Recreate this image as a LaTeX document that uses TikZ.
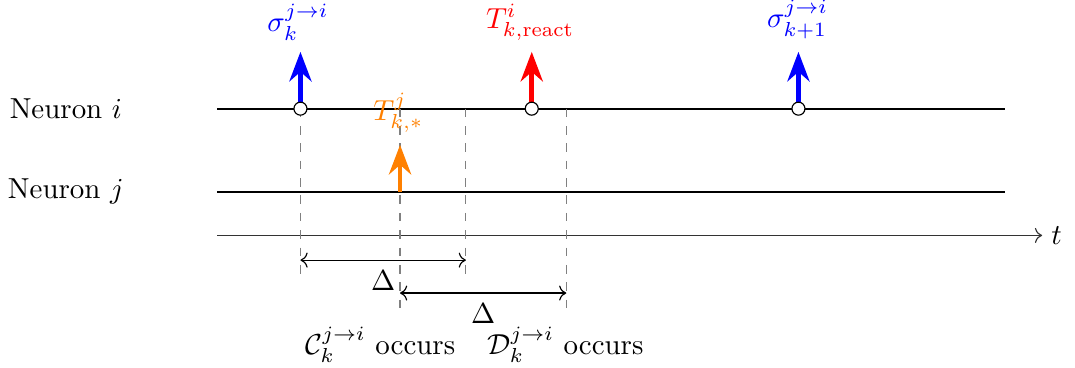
\documentclass[tikz,border=0pt]{standalone}
\usepackage{amsmath,amssymb}
\usepackage{xcolor}
\usetikzlibrary{arrows.meta}
\definecolor{spikeorange}{RGB}{255,128,0}

\begin{document}
\begin{tikzpicture}[>=To,
    train/.style={thick},
    spike/.style={-Stealth, ultra thick},
    guide/.style={dashed, gray, thin},
    dot/.style={circle, draw, fill=white, inner sep=0pt, minimum size=4.5pt}]
\useasboundingbox (0,0) rectangle (13.06,-4.47);
% neuron labels
\node (ni) at (0.80,-1.32) {Neuron $i$};
\node (nj) at (0.80,-2.33) {Neuron $j$};
% spike trains
\coordinate (ia) at (2.64,-1.32);
\coordinate (ib) at (12.21,-1.32);
\coordinate (ja) at (2.64,-2.33);
\coordinate (jb) at (12.21,-2.33);
\draw[train] (ia) -- (ib);
\draw[train] (ja) -- (jb);
% time axis
\coordinate (ta) at (2.64,-2.86);
\node[anchor=west, inner sep=3pt] (t) at (12.66,-2.86) {$t$};
\draw[->, gray!40!black] (ta) -- (t.west);
% guide lines
\coordinate (g1a) at (3.65,-1.32);
\coordinate (g1b) at (3.65,-3.34);
\coordinate (g2a) at (4.86,-1.32);
\coordinate (g2b) at (4.86,-3.77);
\coordinate (g3a) at (5.66,-1.32);
\coordinate (g3b) at (5.66,-3.34);
\coordinate (g4a) at (6.88,-1.32);
\coordinate (g4b) at (6.88,-3.77);
\draw[guide] (g1a) -- (g1b);
\draw[guide] (g2a) -- (g2b);
\draw[guide] (g3a) -- (g3b);
\draw[guide] (g4a) -- (g4b);
% spikes on neuron i
\coordinate (s1) at (3.65,-1.32);
\coordinate (s1t) at (3.65,-0.63);
\coordinate (r1) at (6.46,-1.32);
\coordinate (r1t) at (6.46,-0.63);
\coordinate (s2) at (9.70,-1.32);
\coordinate (s2t) at (9.70,-0.63);
\draw[spike, blue] (s1) -- (s1t);
\draw[spike, red] (r1) -- (r1t);
\draw[spike, blue] (s2) -- (s2t);
\node[dot] (d1) at (s1) {};
\node[dot] (d2) at (r1) {};
\node[dot] (d3) at (s2) {};
\node[blue] (ls1) at (3.62,-0.27) {$\sigma_k^{j\to i}$};
\node[red] (lr1) at (6.44,-0.27) {$T^i_{k,\text{react}}$};
\node[blue] (ls2) at (9.69,-0.24) {$\sigma_{k+1}^{j\to i}$};
% spike on neuron j
\coordinate (o1) at (4.86,-2.33);
\coordinate (o1t) at (4.86,-1.76);
\draw[spike, spikeorange] (o1) -- (o1t);
\node[spikeorange] (lo1) at (4.84,-1.37) {$T^j_{k,*}$};
% windows
\coordinate (w1a) at (3.65,-3.16);
\coordinate (w1b) at (5.66,-3.16);
\coordinate (w2a) at (4.86,-3.56);
\coordinate (w2b) at (6.88,-3.56);
\draw[<->] (w1a) -- node[below] {$\Delta$} (w1b);
\draw[<->] (w2a) -- node[below] {$\Delta$} (w2b);
% events
\node (ce) at (4.62,-4.19) {$\mathcal{C}_k^{j\to i}$ occurs};
\node (de) at (6.87,-4.19) {$\mathcal{D}_k^{j\to i}$ occurs};
\end{tikzpicture}
\end{document}
